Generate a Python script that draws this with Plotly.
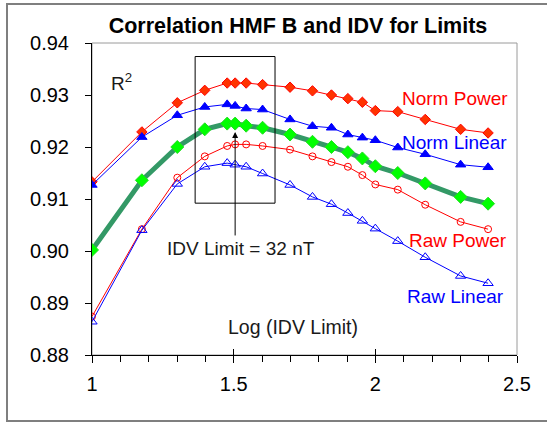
import numpy as np
import plotly.graph_objects as go

# IDV limits (nT); x axis is log10 of these
idv_limits = [10, 15, 20, 25, 30, 32, 35, 40, 50, 60, 70, 80, 90, 100, 120, 150, 200, 250]
log_idv = [float(np.log10(v)) for v in idv_limits]

norm_power = [0.9133, 0.9229, 0.9285, 0.9309, 0.9323, 0.9323, 0.9323, 0.9320, 0.9315,
              0.9308, 0.9300, 0.9293, 0.9286, 0.9270, 0.9268, 0.9253, 0.9234, 0.9227]
norm_linear = [0.9127, 0.9219, 0.9261, 0.9277, 0.9282, 0.9279, 0.9274, 0.9272, 0.9253,
               0.9240, 0.9237, 0.9224, 0.9218, 0.9213, 0.9199, 0.9186, 0.9166, 0.9161]
average = [0.9002, 0.9136, 0.9200, 0.9234, 0.9245, 0.9245, 0.9241, 0.9237, 0.9224,
           0.9210, 0.9200, 0.9190, 0.9178, 0.9163, 0.9150, 0.9130, 0.9104, 0.9091]
raw_power = [0.8874, 0.9042, 0.9141, 0.9182, 0.9202, 0.9205, 0.9205, 0.9202, 0.9195,
             0.9182, 0.9171, 0.9162, 0.9146, 0.9128, 0.9118, 0.9089, 0.9056, 0.9042]
raw_linear = [0.8864, 0.9040, 0.9129, 0.9162, 0.9169, 0.9166, 0.9162, 0.9149, 0.9127,
              0.9104, 0.9090, 0.9073, 0.9058, 0.9043, 0.9019, 0.8988, 0.8952, 0.8938]

x_range = [1.0, 2.5]
y_range = [0.88, 0.94]
box_x = [1.364, 1.646]
box_y = [0.9092, 0.9374]
chosen_limit = 32

FONT = "Liberation Sans, Arial, sans-serif"
RED = "#FF0000"
BLUE = "#0000FF"

fig = go.Figure()

fig.add_trace(go.Scatter(x=log_idv, y=norm_power, mode="lines+markers",
                         line=dict(color=RED, width=1),
                         marker=dict(symbol="diamond", size=8, color="#FF3300",
                                     line=dict(color="#FF0000", width=1))))
fig.add_trace(go.Scatter(x=log_idv, y=norm_linear, mode="lines+markers",
                         line=dict(color=BLUE, width=1),
                         marker=dict(symbol="triangle-up", size=9, color=BLUE,
                                     line=dict(color=BLUE, width=1))))
fig.add_trace(go.Scatter(x=log_idv, y=average, mode="lines+markers",
                         line=dict(color="#339966", width=5),
                         marker=dict(symbol="diamond", size=10, color="#00FF00",
                                     line=dict(color="#22DD22", width=1))))
fig.add_trace(go.Scatter(x=log_idv, y=raw_power, mode="lines+markers",
                         line=dict(color=RED, width=1),
                         marker=dict(symbol="circle-open", size=7, color=RED,
                                     line=dict(color=RED, width=1))))
fig.add_trace(go.Scatter(x=log_idv, y=raw_linear, mode="lines+markers",
                         line=dict(color=BLUE, width=1),
                         marker=dict(symbol="triangle-up-open", size=9, color=BLUE,
                                     line=dict(color=BLUE, width=1))))
# helper trace for the upper half of crossing major x ticks
fig.add_trace(go.Scatter(x=x_range, y=[None, None], xaxis="x2", mode="lines",
                         hoverinfo="skip", showlegend=False))

W, H = 547, 423
L, R, T, B = 92, 30, 43, 68
pw, ph = W - L - R, H - T - B


def px(xp):
    return (xp - L) / pw


def py(yp):
    return (H - B - yp) / ph


shapes = [
    # outer chart frame
    dict(type="rect", xref="paper", yref="paper", x0=px(7), x1=px(560), y0=py(421), y1=py(4),
         line=dict(color="#7F7F7F", width=2), layer="below"),
    # plot area border (gray)
    dict(type="rect", xref="paper", yref="paper", x0=0, x1=1, y0=0, y1=1,
         line=dict(color="#9A9A9A", width=1), layer="below"),
    # highlight box
    dict(type="rect", xref="x", yref="y", x0=box_x[0], x1=box_x[1], y0=box_y[0], y1=box_y[1],
         line=dict(color="black", width=1)),
]

annotations = [
    dict(x=float(np.log10(chosen_limit)), y=0.9229, ax=float(np.log10(chosen_limit)), ay=0.9027,
         xref="x", yref="y", axref="x", ayref="y", text="", showarrow=True,
         arrowhead=2, arrowsize=1.2, arrowwidth=1, arrowcolor="black"),
    dict(x=1.526, y=0.9005, xref="x", yref="y", text=f"IDV Limit = {chosen_limit} nT",
         showarrow=False, font=dict(size=19, color="#1a1a1a", family=FONT)),
    dict(x=1.71, y=0.8854, xref="x", yref="y", text="Log (IDV Limit)",
         showarrow=False, font=dict(size=19.5, color="#1a1a1a", family=FONT)),
    dict(x=1.103, y=0.9325, xref="x", yref="y", text="R<sup>2</sup>",
         showarrow=False, font=dict(size=19, color="#1a1a1a", family=FONT)),
    dict(x=2.281, y=0.9294, xref="x", yref="y", text="Norm Power",
         showarrow=False, font=dict(size=19, color=RED, family=FONT)),
    dict(x=2.281, y=0.9208, xref="x", yref="y", text="Norm Linear",
         showarrow=False, font=dict(size=19, color=BLUE, family=FONT)),
    dict(x=2.291, y=0.9020, xref="x", yref="y", text="Raw Power",
         showarrow=False, font=dict(size=19, color=RED, family=FONT)),
    dict(x=2.284, y=0.8913, xref="x", yref="y", text="Raw Linear",
         showarrow=False, font=dict(size=19, color=BLUE, family=FONT)),
]

fig.update_layout(
    width=W, height=H,
    margin=dict(l=L, r=R, t=T, b=B),
    paper_bgcolor="white", plot_bgcolor="white",
    showlegend=False,
    font=dict(family=FONT, size=20, color="black"),
    title=dict(text="<b>Correlation HMF B and IDV for Limits</b>",
               x=px(298), xref="paper", xanchor="center",
               y=1 - 25.3 / H, yref="container", yanchor="middle",
               font=dict(size=21.5, color="black", family=FONT)),
    xaxis=dict(range=x_range, dtick=0.5, tick0=1, showgrid=False, zeroline=False,
               showline=True, linecolor="black", linewidth=1,
               ticks="outside", ticklen=7, tickcolor="black", tickwidth=1,
               minor=dict(dtick=0.1, ticks="outside", ticklen=6, tickcolor="black", showgrid=False),
               tickfont=dict(size=20, family=FONT, color="black"), ticklabelstandoff=4),
    xaxis2=dict(range=x_range, overlaying="x", dtick=0.5, tick0=1, showgrid=False,
                zeroline=False, showline=False, ticks="inside", ticklen=6,
                tickcolor="black", showticklabels=False, side="bottom"),
    yaxis=dict(range=y_range, dtick=0.01, tick0=0.88, tickformat=".2f", showgrid=False,
               zeroline=False, showline=True, linecolor="black", linewidth=1,
               ticks="outside", ticklen=6, tickcolor="black",
               tickfont=dict(size=20, family=FONT, color="black"), ticklabelstandoff=12),
    shapes=shapes,
    annotations=annotations,
)

fig.write_html("out.html", config={"displayModeBar": False},
               post_script="document.body.style.margin='0';document.body.style.overflow='hidden';")
